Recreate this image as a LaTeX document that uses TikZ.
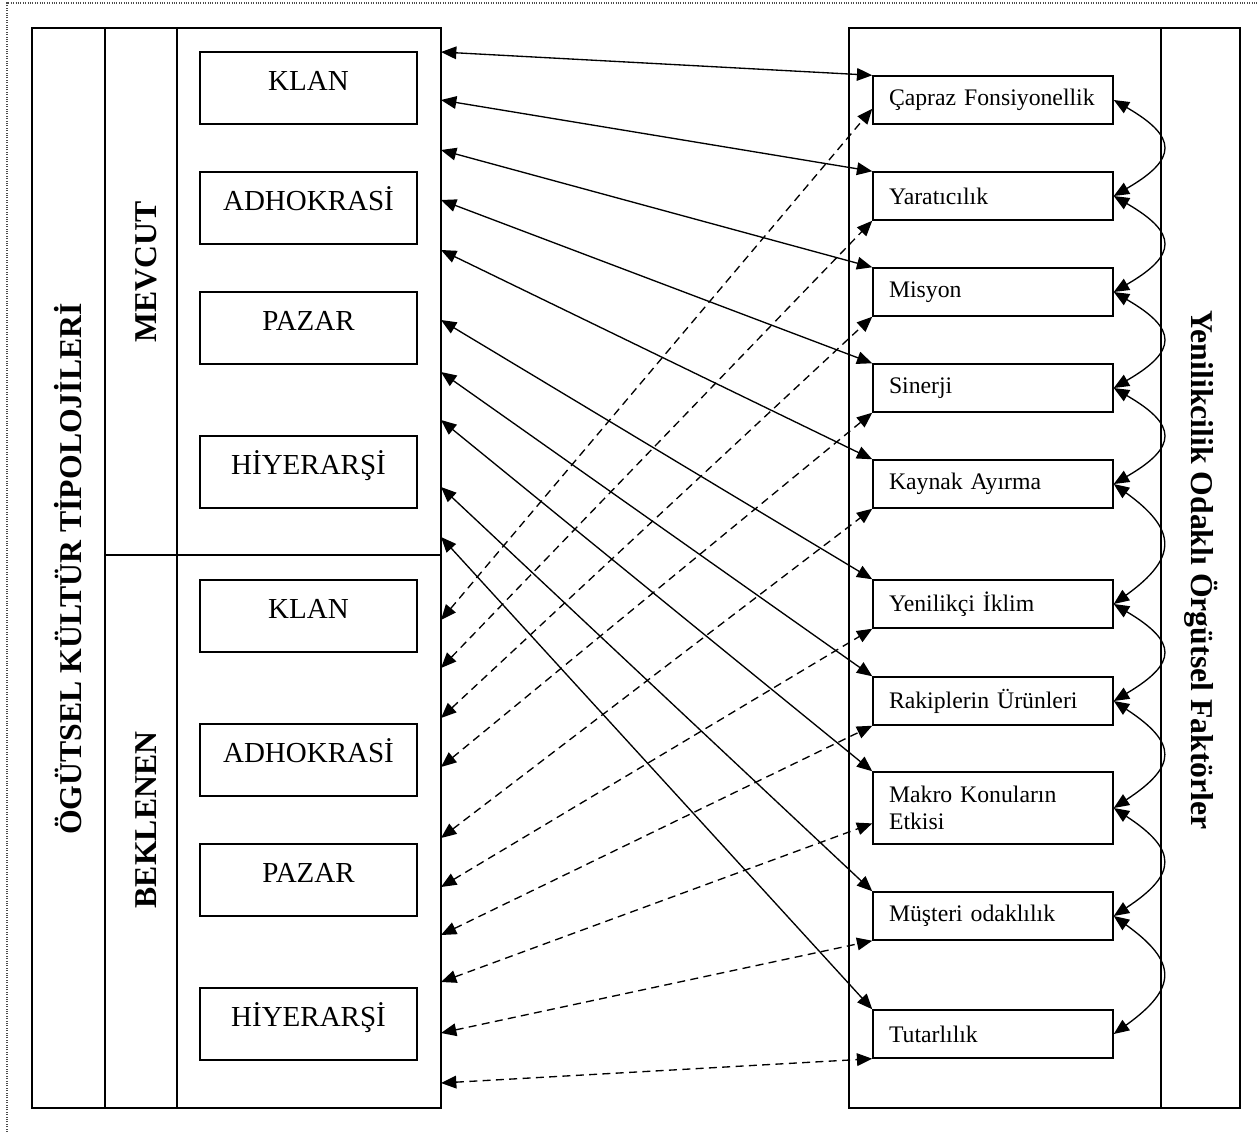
\documentclass[tikz,border=0pt]{standalone}
\usepackage{fontspec}
\setmainfont{Liberation Serif}
\usetikzlibrary{arrows.meta}

\begin{document}
\begin{tikzpicture}[x=0.75pt,y=0.75pt,yscale=-1,
  frame/.style={line width=1.3pt},
  tipbox/.style={draw,line width=1.1pt,minimum width=162.75pt,minimum height=54pt,text height=15pt,text depth=12pt,inner sep=0pt,font=\fontsize{21.75}{26}\selectfont},
  faktor/.style={draw,line width=1.1pt,minimum width=180pt,minimum height=36pt,text width=156pt,inner xsep=12pt,inner ysep=0pt,align=left,font=\fontsize{17.8}{20.5}\selectfont},
  baslik/.style={font=\bfseries\fontsize{23.8}{28}\selectfont},
  ok/.style={{Triangle[length=11.5pt,width=9.5pt]}-{Triangle[length=11.5pt,width=9.5pt]},line width=1pt},
  kesik/.style={ok,dash pattern=on 6pt off 4pt}]
\useasboundingbox (0,0) rectangle (1257,1132);

%Dotted frame
\draw [densely dotted,line width=0.8pt,black!70] (7,1132) -- (7,3) -- (1257,3);

%Left table
\draw [frame] (32,28) rectangle (441,1108);
\draw [frame] (105,28) -- (105,1108);
\draw [frame] (177,28) -- (177,1108);
\draw [frame] (105,555) -- (441,555);
%Right table
\draw [frame] (849,28) rectangle (1240,1108);
\draw [frame] (1161,28) -- (1161,1108);

% Text Node
\node [baslik,rotate=90] (kultur) at (68,569) {ÖGÜTSEL KÜLTÜR TİPOLOJİLERİ};
% Text Node
\node [baslik,rotate=90] (mevcut) at (146,272) {MEVCUT};
% Text Node
\node [baslik,rotate=90] (beklenen) at (146,820) {BEKLENEN};
% Text Node
\node [baslik,rotate=-90] (faktorler) at (1201,570) {Yenilikcilik Odaklı Örgütsel Faktörler};

%Culture types
\node [tipbox] (mklan) at (308.5,88) {KLAN};
\node [tipbox] (madho) at (308.5,208) {ADHOKRASİ};
\node [tipbox] (mpazar) at (308.5,328) {PAZAR};
\node [tipbox] (mhiy) at (308.5,472) {HİYERARŞİ};
\node [tipbox] (bklan) at (308.5,616) {KLAN};
\node [tipbox] (badho) at (308.5,760) {ADHOKRASİ};
\node [tipbox] (bpazar) at (308.5,880) {PAZAR};
\node [tipbox] (bhiy) at (308.5,1024) {HİYERARŞİ};

%Factors
\node [faktor] (caf) at (993,100) {Çapraz Fonsiyonellik};
\node [faktor] (yar) at (993,196) {Yaratıcılık};
\node [faktor] (mis) at (993,292) {Misyon};
\node [faktor] (sin) at (993,388) {Sinerji};
\node [faktor] (kay) at (993,484) {Kaynak Ayırma};
\node [faktor] (yen) at (993,604) {Yenilikçi İklim};
\node [faktor] (rak) at (993,701) {Rakiplerin Ürünleri};
\node [faktor,minimum height=54pt] (mak) at (993,808) {Makro Konuların\\Etkisi};
\node [faktor] (mus) at (993,916) {Müşteri odaklılık};
\node [faktor] (tut) at (993,1034) {Tutarlılık};

%Ends on the left table
\foreach \n/\y in {s1/52,s2/100,s3/150,s4/200,s5/250,s6/320,s7/372,s8/420,s9/487,s10/537}
  \coordinate (\n) at (441,\y);
\foreach \n/\y in {d1/620,d2/668,d3/718,d4/767,d5/838,d6/887,d7/935,d8/982,d9/1033,d10/1083}
  \coordinate (\n) at (441,\y);

%Straight Lines
\foreach \a/\b in {s1/caf,s2/yar,s3/mis,s4/sin,s5/kay,s6/yen,s7/rak,s8/mak,s9/mus,s10/tut}
  \draw [ok] (\a) -- (\b.north west);

%Dashed Lines
\draw [kesik] (d1) -- ([yshift=-12pt]caf.south west);
\foreach \a/\b in {d2/yar,d3/mis,d4/sin,d5/kay,d6/yen,d7/rak,d9/mus,d10/tut}
  \draw [kesik] (\a) -- (\b.south west);
\draw [kesik] (d8) -- ([yshift=-16pt]mak.south west);

%Curve Lines
\foreach \a/\b/\e in {caf/yar/37,yar/mis/37,mis/sin/37,sin/kay/37,kay/yen/46,yen/rak/38,rak/mak/42,mak/mus/42,mus/tut/46}
  \draw [ok] (\a.east) .. controls +(64,\e) and +(64,-\e) .. (\b.east);

\end{tikzpicture}
\end{document}
